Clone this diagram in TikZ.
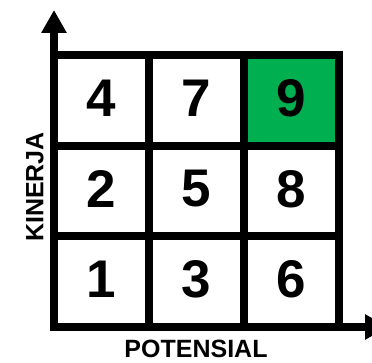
\documentclass[tikz,border=0pt]{standalone}
\usepackage{fontspec}
\setmainfont{Liberation Sans}
\usetikzlibrary{arrows.meta}
\definecolor{hiGreen}{HTML}{00B050}
\begin{document}
\begin{tikzpicture}[x=1pt,y=-1pt,
  gridline/.style={line width=8pt,line join=miter},
  axisline/.style={line width=8pt,-{Triangle[width=24pt,length=23pt]}},
  digit/.style={inner sep=0pt,font=\bfseries\fontsize{53}{53}\selectfont},
  axlabel/.style={inner sep=0pt,font=\bfseries\fontsize{25}{25}\selectfont}]
\useasboundingbox (0,0) rectangle (372,363);
\fill[hiGreen] (244,55.5) rectangle (339,146);
\draw[gridline] (54,55.5) rectangle (339,327);
\draw[gridline] (149,55.5) -- (149,327);
\draw[gridline] (244,55.5) -- (244,327);
\draw[gridline] (54,146) -- (339,146);
\draw[gridline] (54,236) -- (339,236);
\coordinate (origin) at (54,331);
\coordinate (ytip) at (54,10);
\coordinate (xorigin) at (50,327);
\coordinate (xtip) at (388,327);
\draw[axisline] (origin) -- (ytip);
\draw[axisline] (xorigin) -- (xtip);
\node[digit] (n4) at (101.5,98) {4};
\node[digit] (n7) at (196.5,98) {7};
\node[digit] (n9) at (291.5,98) {9};
\node[digit] (n2) at (101.5,189) {2};
\node[digit] (n5) at (196.5,189) {5};
\node[digit] (n8) at (291.5,189) {8};
\node[digit] (n1) at (101.5,279) {1};
\node[digit] (n3) at (196.5,279) {3};
\node[digit] (n6) at (291.5,279) {6};
\node[axlabel] (xl) at (196,349) {POTENSIAL};
\node[axlabel,rotate=90] (yl) at (35,187) {KINERJA};
\end{tikzpicture}
\end{document}
